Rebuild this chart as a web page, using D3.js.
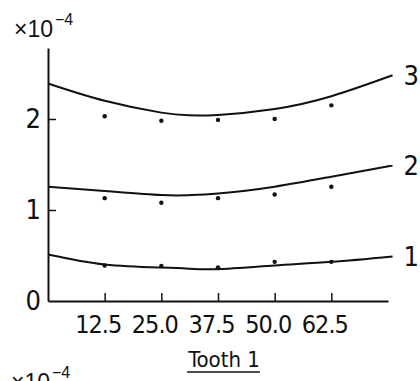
<!DOCTYPE html>
<html>
<head>
<meta charset="utf-8">
<script src="https://cdn.jsdelivr.net/npm/d3@7"></script>
<style>
  body { margin: 0; background: #fff; }
  svg { display: block; }
  text { fill: #111; font-family: "Liberation Sans Narrow", "DejaVu Sans Condensed", "Liberation Sans", sans-serif; }
</style>
</head>
<body>
<div id="chart"></div>
<script>
// positions along the tooth (x) and the three curves
const curveX = [0, 12.5, 25, 31, 37.5, 50, 62.5, 76]
const curve1 = [0.51, 0.40, 0.367, 0.355, 0.35, 0.39, 0.43, 0.49]
const curve2 = [1.256, 1.21, 1.165, 1.163, 1.18, 1.256, 1.366, 1.49]
const curve3 = [2.39, 2.20, 2.07, 2.04, 2.045, 2.11, 2.25, 2.48]

// measured points
const pointX = [12.5, 25, 37.5, 50, 62.5]
const points1 = [0.39, 0.385, 0.37, 0.43, 0.43]
const points2 = [1.13, 1.08, 1.13, 1.17, 1.256]
const points3 = [2.03, 1.98, 1.99, 2.0, 2.15]

const curveLabels = ['1', '2', '3']
const xTicks = [12.5, 25, 37.5, 50, 62.5]
const yTicks = [0, 1, 2]

const W = 420, H = 381
const margin = { top: 48, right: 32, bottom: 80, left: 48 }
const width = W - margin.left - margin.right
const height = H - margin.top - margin.bottom

const svg = d3.select('#chart').append('svg')
    .attr('width', W)
    .attr('height', H)

const g = svg.append('g')
    .attr('transform', 'translate(' + margin.left + ',' + margin.top + ')')

const x = d3.scaleLinear().domain([0, 75]).range([0, width])
const y = d3.scaleLinear().domain([0, 2.78]).range([height, 0])

// axes, ticks point inwards
const xAxis = d3.axisBottom(x)
    .tickValues(xTicks)
    .tickSizeInner(-8)
    .tickSizeOuter(0)
    .tickPadding(14)
    .tickFormat(d3.format('.1f'))

g.append('g')
    .attr('class', 'x-axis')
    .attr('transform', 'translate(0,' + height + ')')
    .call(xAxis)

const yAxis = d3.axisLeft(y)
    .tickValues(yTicks)
    .tickSizeInner(-8)
    .tickSizeOuter(0)
    .tickPadding(7)
    .tickFormat(d3.format('d'))

g.append('g')
    .attr('class', 'y-axis')
    .call(yAxis)

g.selectAll('.domain').attr('stroke', '#111').attr('stroke-width', 2)
g.selectAll('.tick line').attr('stroke', '#111').attr('stroke-width', 1.5)
g.selectAll('.y-axis .tick').filter(d => d === 0).select('line').remove()

g.selectAll('.x-axis .tick text')
    .attr('font-size', 25)
    .attr('letter-spacing', -1)
    .attr('dx', -7)
    .attr('fill', '#111')

g.selectAll('.y-axis .tick text')
    .attr('font-size', 27)
    .attr('fill', '#111')

// fitted curves
const line = d3.line()
    .x(d => x(d[0]))
    .y(d => y(d[1]))
    .curve(d3.curveNatural)

const curves = [curve1, curve2, curve3]
curves.forEach(function (c, i) {
  const data = curveX.map((v, j) => [v, c[j]])
  g.append('path')
      .datum(data)
      .attr('d', line)
      .attr('fill', 'none')
      .attr('stroke', '#111')
      .attr('stroke-width', 2)

  g.append('text')
      .attr('x', x(curveX[curveX.length - 1]) + 11)
      .attr('y', y(c[c.length - 1]))
      .attr('dy', '0.36em')
      .attr('font-size', 27)
      .text(curveLabels[i])
})

// measured points
const allPoints = [points1, points2, points3]
allPoints.forEach(function (p) {
  g.selectAll(null)
      .data(pointX.map((v, j) => [v, p[j]]))
      .join('circle')
      .attr('cx', d => x(d[0]))
      .attr('cy', d => y(d[1]))
      .attr('r', 2.2)
      .attr('fill', '#111')
})

// exponent label
function exponent (sel, px, py) {
  const t = sel.append('text')
      .attr('x', px)
      .attr('y', py)
      .style('font-family', '"Liberation Sans", Arial, sans-serif')
      .attr('font-size', 23)
  t.append('tspan').text('×10')
  t.append('tspan')
      .attr('dy', -12)
      .attr('dx', 2)
      .attr('font-size', 16)
      .text('−4')
}
exponent(svg, 14, 37)
// cut-off copy of the next panel's label at the bottom
exponent(svg, 11, 390)

// x title, underlined
const title = svg.append('text')
    .attr('x', 224)
    .attr('y', 367)
    .attr('text-anchor', 'middle')
    .attr('font-size', 22)
    .text('Tooth 1')

const bb = title.node().getBBox()
svg.append('line')
    .attr('x1', bb.x)
    .attr('x2', bb.x + bb.width)
    .attr('y1', 372)
    .attr('y2', 372)
    .attr('stroke', '#111')
    .attr('stroke-width', 1.5)
</script>
</body>
</html>
